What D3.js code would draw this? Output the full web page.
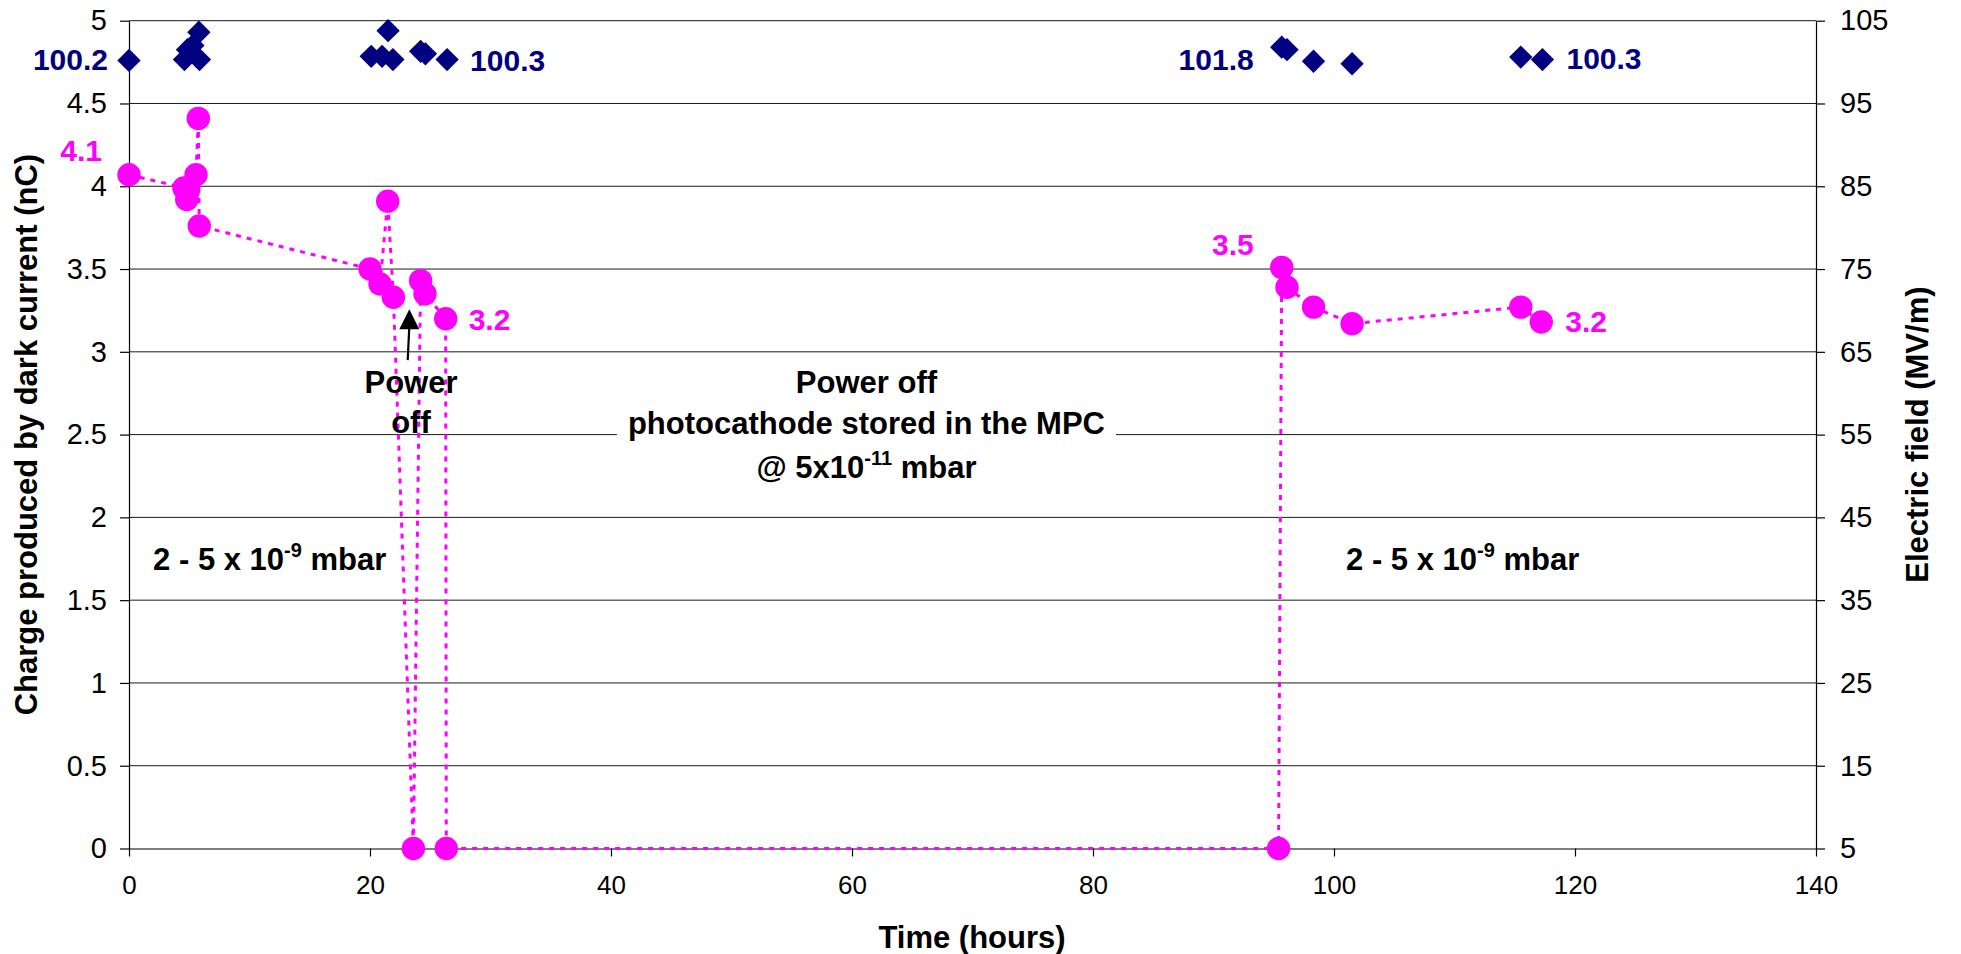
<!DOCTYPE html>
<html>
<head>
<meta charset="utf-8">
<script src="https://cdn.jsdelivr.net/npm/d3@7"></script>
<style>
  body { margin: 0; background: #fff; }
  text { font-family: "Liberation Sans", Arial, sans-serif; }
</style>
</head>
<body>
<svg id="chart"></svg>
<script>
const width = 1961;
const height = 954;

// charge produced by dark current (nC) vs time (hours)
const chargeHours = [0, 4.56, 4.79, 4.92, 5.56, 5.75, 5.83, 20.0, 20.83, 21.47, 21.94, 23.6, 24.2, 24.56, 26.28, 26.33, 95.4, 95.66, 96.1, 98.3, 101.5, 115.5, 117.2];
const charge = [4.07, 3.99, 3.92, 3.97, 4.07, 4.41, 3.76, 3.50, 3.41, 3.91, 3.33, 0, 3.43, 3.35, 3.20, 0, 0, 3.51, 3.39, 3.27, 3.17, 3.27, 3.18];

// electric field (MV/m) vs time (hours)
const fieldHours = [0, 4.6, 4.85, 5.3, 5.8, 5.85, 20.1, 21.0, 21.5, 21.9, 24.2, 24.6, 26.4, 95.66, 96.1, 98.3, 101.5, 115.5, 117.3];
const field = [100.2, 100.3, 101.5, 102.0, 103.6, 100.3, 100.7, 100.7, 103.8, 100.3, 101.3, 101.0, 100.3, 101.8, 101.5, 100.1, 99.8, 100.6, 100.3];

const xTicks = [0, 20, 40, 60, 80, 100, 120, 140];
const leftTicks = [0, 0.5, 1, 1.5, 2, 2.5, 3, 3.5, 4, 4.5, 5];
const rightTicks = [5, 15, 25, 35, 45, 55, 65, 75, 85, 95, 105];

// data labels: which point, and the text shown
const labelSeries = ["field", "charge", "field", "charge", "field", "charge", "field", "charge"];
const labelIndex = [0, 0, 12, 14, 13, 17, 18, 22];
const labelText = ["100.2", "4.1", "100.3", "3.2", "101.8", "3.5", "100.3", "3.2"];

const navy = "#000080";
const pink = "#ff00ff";

const svg = d3.select("#chart")
  .attr("width", width)
  .attr("height", height);

const x = d3.scaleLinear().domain([0, 140]).range([129, 1816]);
const y = d3.scaleLinear().domain([0, 5]).range([848.5, 20.7]);
const yR = d3.scaleLinear().domain([5, 105]).range([848.5, 20.7]);

// gridlines
svg.append("g")
  .selectAll("line")
  .data(leftTicks.filter(d => d > 0))
  .enter().append("line")
    .attr("x1", x(0))
    .attr("x2", x(140))
    .attr("y1", d => y(d))
    .attr("y2", d => y(d))
    .attr("stroke", "#1a1a1a")
    .attr("stroke-width", 1);

// axes
const leftAxis = svg.append("g")
  .attr("transform", `translate(${x(0)},0)`)
  .call(d3.axisLeft(y).tickValues(leftTicks).tickFormat(d3.format("")).tickSize(9).tickSizeOuter(0).tickPadding(13));

const rightAxis = svg.append("g")
  .attr("transform", `translate(${x(140)},0)`)
  .call(d3.axisRight(yR).tickValues(rightTicks).tickSize(9).tickSizeOuter(0).tickPadding(15));

const bottomAxis = svg.append("g")
  .attr("transform", `translate(0,${y(0)})`)
  .call(d3.axisBottom(x).tickValues(xTicks).tickSize(8).tickSizeOuter(0).tickPadding(19));

[leftAxis, rightAxis, bottomAxis].forEach(a => {
  a.select(".domain").attr("stroke", "#000").attr("stroke-width", 1.2);
  a.selectAll(".tick line").attr("stroke", "#000").attr("stroke-width", 1.2);
  a.selectAll("text")
    .attr("font-family", "'Liberation Sans', Arial, sans-serif")
    .attr("fill", "#000");
});
leftAxis.selectAll("text").attr("font-size", 29);
rightAxis.selectAll("text").attr("font-size", 29);
bottomAxis.selectAll("text").attr("font-size", 26);

// axis titles
svg.append("text")
  .attr("x", 972)
  .attr("y", 948)
  .attr("text-anchor", "middle")
  .attr("font-size", 31)
  .attr("font-weight", "bold")
  .text("Time (hours)");

svg.append("text")
  .attr("transform", `translate(37,${(y(0) + y(5)) / 2}) rotate(-90)`)
  .attr("text-anchor", "middle")
  .attr("font-size", 31)
  .attr("font-weight", "bold")
  .text("Charge produced by dark current (nC)");

svg.append("text")
  .attr("transform", `translate(1928,${(y(0) + y(5)) / 2}) rotate(-90)`)
  .attr("text-anchor", "middle")
  .attr("font-size", 31)
  .attr("font-weight", "bold")
  .text("Electric field (MV/m)");

// rich text helper (superscripts)
function richText(g, parts, px, py, anchor) {
  const t = g.append("text")
    .attr("x", px)
    .attr("y", py)
    .attr("text-anchor", anchor)
    .attr("font-size", 31)
    .attr("font-weight", "bold")
    .attr("fill", "#000");
  let shift = 0;
  parts.forEach(p => {
    const s = t.append("tspan").text(p[0]);
    if (p[1]) {
      s.attr("font-size", 20).attr("dy", -13);
      shift = 13;
    } else if (shift) {
      s.attr("dy", shift);
      shift = 0;
    }
  });
  return t;
}

// annotation: central text box
const boxG = svg.append("g");
const boxText = svg.append("g");
richText(boxText, [["Power off"]], x(61.2), y(2.751), "middle");
richText(boxText, [["photocathode stored in the MPC"]], x(61.2), y(2.504), "middle");
richText(boxText, [["@ 5x10"], ["-11", true], [" mbar"]], x(61.2), y(2.238), "middle");
const bb = boxText.node().getBBox();
boxG.append("rect")
  .attr("x", bb.x - 11)
  .attr("y", bb.y - 6)
  .attr("width", bb.width + 22)
  .attr("height", bb.height + 14)
  .attr("fill", "#fff");

// pressure notes
richText(svg, [["2 - 5 x 10"], ["-9", true], [" mbar"]], x(2.0), y(1.682), "start");
richText(svg, [["2 - 5 x 10"], ["-9", true], [" mbar"]], x(101.0), y(1.682), "start");

// charge series: dotted line + circles
const chargePts = chargeHours.map((h, i) => ({ h: h, v: charge[i] }));
const fieldPts = fieldHours.map((h, i) => ({ h: h, v: field[i] }));

svg.append("path")
  .datum(chargePts)
  .attr("fill", "none")
  .attr("stroke", pink)
  .attr("stroke-width", 3)
  .attr("stroke-dasharray", "5,6")
  .attr("d", d3.line().x(d => x(d.h)).y(d => y(d.v)));

svg.append("g")
  .selectAll("path")
  .data(fieldPts)
  .enter().append("path")
    .attr("transform", d => `translate(${x(d.h)},${yR(d.v)}) rotate(45)`)
    .attr("d", d3.symbol().type(d3.symbolSquare).size(16.5 * 16.5))
    .attr("fill", navy);

svg.append("g")
  .selectAll("circle")
  .data(chargePts)
  .enter().append("circle")
    .attr("cx", d => x(d.h))
    .attr("cy", d => y(d.v))
    .attr("r", 11.7)
    .attr("fill", pink);

// small "Power off" note with arrow
richText(svg, [["Power"]], x(23.4), y(2.753), "middle");
richText(svg, [["off"]], x(23.4), y(2.511), "middle");

const tip = [x(23.26), y(3.257)];
const tail = [x(23.13), y(2.95)];
svg.append("line")
  .attr("x1", tail[0]).attr("y1", tail[1])
  .attr("x2", tip[0]).attr("y2", tip[1] + 18)
  .attr("stroke", "#000")
  .attr("stroke-width", 2.2);
svg.append("path")
  .attr("d", `M${tip[0]},${tip[1]} L${tip[0] - 10},${tip[1] + 20} L${tip[0] + 10},${tip[1] + 20} Z`)
  .attr("fill", "#000");

// data labels
const labelDx = [-21, -27, 23, 23, -28, -28, 24, 24];
const labelDy = [9.6, -14, 11, 11, 22.8, -12, 9.7, 10];
svg.append("g")
  .selectAll("text")
  .data(labelText)
  .enter().append("text")
    .attr("x", (d, i) => {
      const s = labelSeries[i], k = labelIndex[i];
      const h = s === "field" ? fieldHours[k] : chargeHours[k];
      return x(h) + labelDx[i];
    })
    .attr("y", (d, i) => {
      const s = labelSeries[i], k = labelIndex[i];
      const py = s === "field" ? yR(field[k]) : y(charge[k]);
      return py + labelDy[i];
    })
    .attr("text-anchor", (d, i) => labelDx[i] < 0 ? "end" : "start")
    .attr("font-size", 30)
    .attr("font-weight", "bold")
    .attr("fill", (d, i) => labelSeries[i] === "field" ? navy : pink)
    .text(d => d);
</script>
</body>
</html>
